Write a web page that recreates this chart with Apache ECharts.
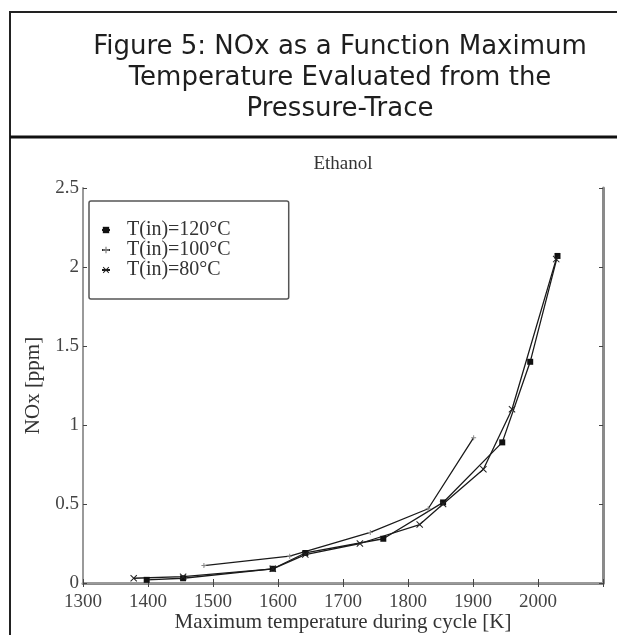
<!DOCTYPE html>
<html>
<head>
<meta charset="utf-8">
<script src="https://cdn.jsdelivr.net/npm/echarts@6/dist/echarts.min.js"></script>
<style>
html, body { margin: 0; padding: 0; background: #fff; }
#chart { width: 617px; height: 635px; }
</style>
</head>
<body>
<div id="chart"></div>
<script>
// caption + titles
const captionLines = ['Figure 5: NOx as a Function Maximum', 'Temperature Evaluated from the', 'Pressure-Trace'];
const plotTitle = 'Ethanol';
const xName = 'Maximum temperature during cycle [K]';
const yName = 'NOx [ppm]';

// axis ticks
const xTicks = [1300, 1400, 1500, 1600, 1700, 1800, 1900, 2000];
const yTicks = [0, 0.5, 1, 1.5, 2, 2.5];

// series (max temperature [K], NOx [ppm])
const seriesNames = ['T(in)=120°C', 'T(in)=100°C', 'T(in)=80°C'];
const nox120 = [[1398, 0.02], [1454, 0.03], [1592, 0.09], [1642, 0.19], [1762, 0.28], [1854, 0.51], [1945, 0.89], [1988, 1.40], [2030, 2.07]];
const nox100 = [[1486, 0.11], [1618, 0.17], [1742, 0.32], [1831, 0.47], [1901, 0.92]];
const nox80 = [[1378, 0.03], [1454, 0.04], [1592, 0.09], [1642, 0.18], [1726, 0.25], [1818, 0.37], [1854, 0.50], [1916, 0.72], [1960, 1.10], [2028, 2.05]];

const serif = '"Liberation Serif", "DejaVu Serif", serif';
const crossPath = 'path://M0,1L1,0L5,4L9,0L10,1L6,5L10,9L9,10L5,6L1,10L0,9L4,5Z';
const plusPath = 'path://M4,0H6V4H10V6H6V10H4V6H0V4H4Z';

const chart = echarts.init(document.getElementById('chart'));

function lineSeries(name, data, symbol, size, color) {
    return {
        name: name,
        type: 'line',
        data: data,
        symbol: symbol,
        symbolSize: size,
        showSymbol: true,
        animation: false,
        lineStyle: { color: '#1a1a1a', width: 1.3 },
        itemStyle: { color: color, borderWidth: 0 },
        emphasis: { disabled: true },
        z: 3
    };
}

function caption(text, y) {
    return {
        type: 'text', x: 340, y: y,
        style: { text: text, font: '26px "DejaVu Sans"', fill: '#1e1e1e', textAlign: 'center', textVerticalAlign: 'middle', align: 'center', verticalAlign: 'middle' }
    };
}

const option = {
    backgroundColor: '#fff',
    animation: false,
    grid: { left: 83, top: 188, width: 520, height: 395, containLabel: false, outerBoundsMode: 'none' },
    legend: {
        orient: 'vertical',
        left: 89,
        top: 201,
        data: seriesNames,
        backgroundColor: '#fff',
        borderColor: '#555',
        borderWidth: 1.5,
        borderRadius: 2,
        padding: [19, 58, 19, 12],
        itemGap: 0,
        itemWidth: 8,
        itemHeight: 8,
        textStyle: { fontFamily: serif, fontSize: 20, color: '#333', padding: [0, 0, 0, 12] },
        selectedMode: false
    },
    xAxis: [{
        type: 'value',
        min: 1300, max: 2100, interval: 100,
        name: xName, nameLocation: 'middle', nameGap: 39, nameMoveOverlap: false,
        nameTextStyle: { fontFamily: serif, fontSize: 21, color: '#333', verticalAlign: 'middle' },
        axisLine: { lineStyle: { color: '#8a8a8a', width: 3 } },
        axisTick: { inside: true, length: 4, lineStyle: { color: '#444' } },
        axisLabel: {
            fontFamily: serif, fontSize: 19, color: '#444', margin: 10,
            formatter: v => (xTicks.indexOf(v) >= 0 ? String(v) : '')
        },
        splitLine: { show: false }
    }, {
        type: 'value', position: 'top',
        min: 1300, max: 2100, interval: 100,
        axisLine: { lineStyle: { color: '#9a9a9a', width: 2 } },
        axisTick: { inside: true, length: 4, lineStyle: { color: '#444' } },
        axisLabel: { show: false },
        splitLine: { show: false }
    }],
    yAxis: [{
        type: 'value',
        min: 0, max: 2.5, interval: 0.5,
        name: yName, nameLocation: 'middle', nameGap: 37,
        nameTextStyle: { fontFamily: serif, fontSize: 21, color: '#333' },
        axisLine: { lineStyle: { color: '#9a9a9a', width: 2 } },
        axisTick: { inside: true, length: 4, lineStyle: { color: '#444' } },
        axisLabel: {
            fontFamily: serif, fontSize: 19, color: '#444', margin: 4,
            formatter: v => (yTicks.indexOf(v) >= 0 ? String(v) : '')
        },
        splitLine: { show: false }
    }, {
        type: 'value', position: 'right',
        min: 0, max: 2.5, interval: 0.5,
        axisLine: { lineStyle: { color: '#8a8a8a', width: 3 } },
        axisTick: { inside: true, length: 4, lineStyle: { color: '#444' } },
        axisLabel: { show: false },
        splitLine: { show: false }
    }],
    series: [
        lineSeries(seriesNames[0], nox120, 'rect', 6, '#111'),
        lineSeries(seriesNames[1], nox100, plusPath, 5, '#888'),
        lineSeries(seriesNames[2], nox80, crossPath, 7, '#222')
    ],
    graphic: [
        { type: 'line', shape: { x1: 10, y1: 12, x2: 617, y2: 12 }, style: { stroke: '#222', lineWidth: 2 } },
        { type: 'line', shape: { x1: 10, y1: 11, x2: 10, y2: 635 }, style: { stroke: '#222', lineWidth: 2 } },
        { type: 'line', shape: { x1: 10, y1: 137, x2: 617, y2: 137 }, style: { stroke: '#111', lineWidth: 3 } },
        caption(captionLines[0], 47),
        caption(captionLines[1], 78),
        caption(captionLines[2], 109),
        {
            type: 'text', x: 343, y: 164,
            style: { text: plotTitle, font: '19px "Liberation Serif"', fill: '#333', textAlign: 'center', textVerticalAlign: 'middle', align: 'center', verticalAlign: 'middle' }
        }
    ]
};

chart.setOption(option);
</script>
</body>
</html>
